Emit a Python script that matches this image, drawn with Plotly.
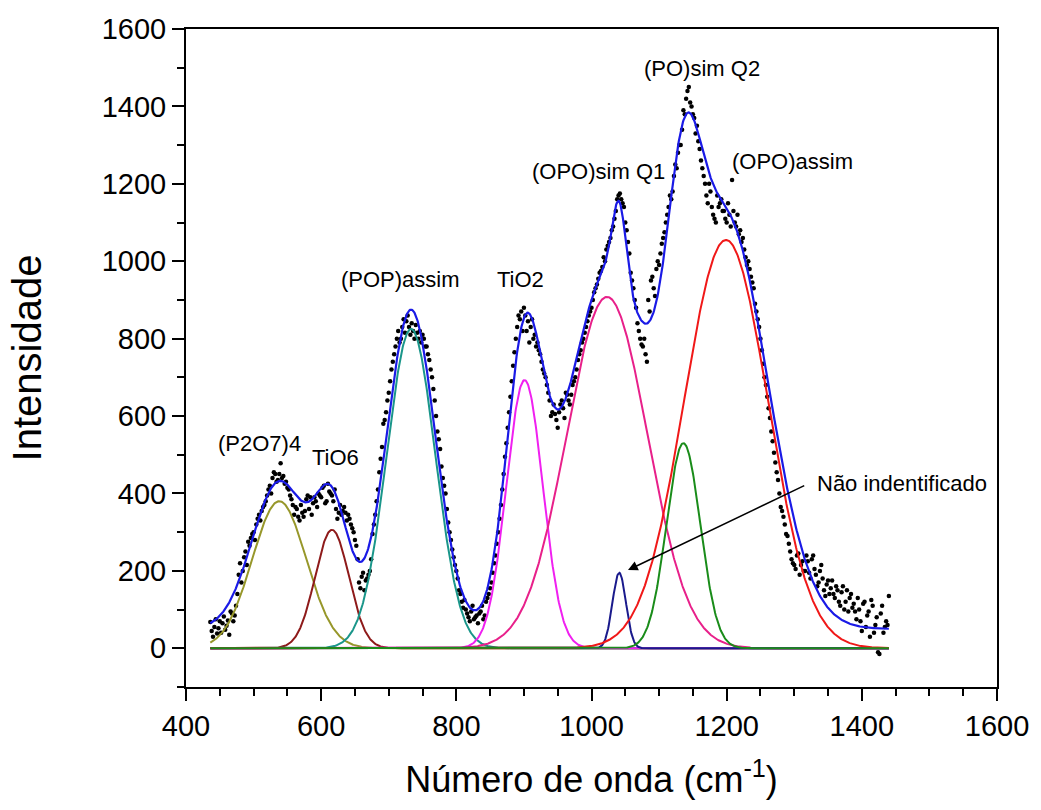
import numpy as np
import plotly.graph_objects as go

# ---------------- data ----------------
# measured points, scan A (x = 436, 440, ...) and scan B (x = 438, 442, ...)
intensity_a = [
    68, 30, 75, 52, 40, 82, 58, 35, 90, 85,
    140, 220, 200, 250, 275, 285, 300, 320, 345, 355,
    370, 395, 420, 440, 450, 435, 478, 445, 430, 410,
    385, 345, 360, 330, 350, 355, 395, 390, 375, 380,
    400, 390, 420, 380, 405, 395, 410, 335, 370, 355,
    350, 345, 320, 300, 265, 170, 185, 150, 180, 200,
    295, 345, 410, 490, 580, 610, 660, 720, 760, 800,
    790, 830, 815, 860, 810, 820, 835, 800, 790, 800,
    780, 745, 700, 640, 560, 515, 440, 400, 325, 280,
    235, 200, 150, 120, 125, 90, 70, 110, 80, 65,
    95, 75, 120, 140, 170, 220, 270, 335, 410, 495,
    570, 650, 730, 800, 860, 870, 880, 820, 790, 850,
    810, 790, 760, 720, 700, 660, 600, 630, 590, 610,
    640, 595, 655, 630, 680, 700, 745, 770, 800, 830,
    860, 880, 920, 940, 970, 985, 1000, 1040, 1060, 1090,
    1130, 1170, 1160, 1140, 1080, 1020, 950, 900, 840, 800,
    780, 760, 900, 950, 930, 980, 990, 1045, 1075, 1120,
    1170, 1180, 1250, 1280, 1300, 1390, 1420, 1450, 1400, 1370,
    1350, 1290, 1240, 1200, 1150, 1180, 1120, 1100, 1140, 1160,
    1130, 1100, 1120, 1210, 1100, 1120, 1080, 1060, 1010, 1000,
    960, 930, 870, 830, 770, 700, 650, 595, 535, 480,
    435, 365, 340, 295, 270, 230, 215, 240, 190, 225,
    200, 225, 180, 240, 190, 170, 215, 150, 165, 140,
    175, 130, 150, 110, 160, 120, 95, 140, 115, 75,
    100, 45, 120, 85, 30, 110, 60, -10, 90, 40,
    70, 135,
]
intensity_b = [
    45, 55, 38, 70, 65, 48, 72, 95, 70, 110,
    190, 170, 235, 215, 265, 295, 280, 335, 330, 365,
    380, 410, 400, 455, 430, 450, 440, 425, 415, 395,
    370, 365, 340, 370, 340, 385, 360, 345, 390, 365,
    395, 415, 375, 425, 400, 380, 360, 350, 345, 365,
    330, 335, 310, 280, 230, 155, 195, 175, 190, 230,
    320, 380, 455, 520, 590, 640, 690, 740, 780, 820,
    800, 850, 845, 830, 840, 800, 815, 820, 810, 780,
    760, 720, 670, 600, 540, 470, 420, 360, 300, 255,
    215, 180, 140, 105, 100, 80, 95, 75, 85, 90,
    110, 85, 130, 155, 195, 240, 300, 370, 450, 530,
    610, 690, 765, 830, 850, 820, 860, 845, 830, 800,
    780, 770, 740, 710, 680, 640, 610, 605, 570, 630,
    620, 660, 640, 655, 690, 720, 760, 790, 815, 845,
    870, 900, 930, 955, 975, 1010, 1030, 1050, 1080, 1110,
    1160, 1175, 1150, 1100, 1050, 970, 930, 880, 820, 785,
    800, 740, 870, 960, 910, 1000, 1020, 1060, 1100, 1140,
    1160, 1220, 1240, 1300, 1340, 1380, 1440, 1410, 1380, 1330,
    1310, 1260, 1220, 1170, 1200, 1140, 1110, 1170, 1150, 1130,
    1110, 1150, 1090, 1130, 1090, 1070, 1050, 1030, 990, 980,
    945, 890, 850, 800, 735, 680, 620, 560, 505, 455,
    400, 355, 320, 290, 250, 220, 205, 245, 215, 200,
    240, 195, 230, 205, 160, 200, 180, 135, 175, 155,
    140, 160, 120, 145, 100, 150, 130, 105, 95, 130,
    70, 115, 55, 95, 125, 40, 80, -15, 110, 55,
    60,
]
wavenumber_a = 436 + 4 * np.arange(len(intensity_a))
wavenumber_b = 438 + 4 * np.arange(len(intensity_b))

# fitted Gaussian components
peak_names = ["(P2O7)4", "TiO6", "(POP)assim", "TiO2", "(OPO)sim Q1",
              "Não indentificado", "(PO)sim Q2", "(OPO)assim"]
peak_centers = [538, 616, 733, 901, 1023, 1041, 1136, 1199]
peak_sigmas = [40, 25, 36, 27, 60, 10, 25, 62]
peak_heights = [380, 306, 825, 693, 908, 195, 530, 1055]
peak_colors = ["#97972a", "#8e1a1a", "#1a968a", "#f020f0", "#e8208a",
               "#1a1a8c", "#1a8c1a", "#f01818"]
fit_offset = 50

# label positions (data coordinates)
label_texts = ["(P2O7)4", "TiO6", "(POP)assim", "TiO2", "(OPO)sim Q1",
               "(PO)sim Q2", "(OPO)assim", "Não indentificado"]
label_x = [509, 621, 718, 895, 1011, 1164, 1298, 1459]
label_y = [530, 494, 954, 954, 1233, 1499, 1257, 425]
arrow_head = (1054, 202)
arrow_tail = (1317, 422)

# ---------------- figure ----------------
x_all = np.concatenate([wavenumber_a, wavenumber_b])
y_all = np.concatenate([intensity_a, intensity_b])
srt = np.argsort(x_all)
x_all, y_all = x_all[srt], y_all[srt]

xf = np.linspace(x_all[0], x_all[-1], 1200)
fig = go.Figure()

fig.add_trace(go.Scatter(x=x_all, y=y_all, mode="markers",
                         marker=dict(color="black", size=4.5),
                         showlegend=False, name="dados"))

total = np.full_like(xf, fit_offset, dtype=float)
order = [0, 1, 2, 3, 4, 5, 7, 6]
for i in order:
    g = peak_heights[i] * np.exp(-(xf - peak_centers[i]) ** 2 / (2 * peak_sigmas[i] ** 2))
    fig.add_trace(go.Scatter(x=xf, y=g, mode="lines",
                             line=dict(color=peak_colors[i], width=2),
                             showlegend=False, name=peak_names[i]))
for i in range(len(peak_centers)):
    total = total + peak_heights[i] * np.exp(-(xf - peak_centers[i]) ** 2 / (2 * peak_sigmas[i] ** 2))

fig.add_trace(go.Scatter(x=xf, y=total, mode="lines",
                         line=dict(color="#1a1ae6", width=2.2),
                         showlegend=False, name="ajuste"))

font_family = "Liberation Sans, Arial, sans-serif"
for t, lx, ly in zip(label_texts, label_x, label_y):
    fig.add_annotation(x=lx, y=ly, text=t, showarrow=False,
                       font=dict(family=font_family, size=22, color="black"))

fig.add_annotation(x=arrow_head[0], y=arrow_head[1], ax=arrow_tail[0], ay=arrow_tail[1],
                   xref="x", yref="y", axref="x", ayref="y", text="",
                   showarrow=True, arrowhead=2, arrowsize=1.3, arrowwidth=1.5,
                   arrowcolor="black")

axis_common = dict(showline=True, linecolor="black", linewidth=2, mirror=True,
                   ticks="outside", ticklen=12, tickwidth=1.5, tickcolor="black",
                   showgrid=False, zeroline=False,
                   tickfont=dict(family=font_family, size=29, color="black"))

fig.update_xaxes(range=[400, 1600], tick0=400, dtick=200,
                 minor=dict(ticks="outside", ticklen=7, tickwidth=1.5,
                            tickcolor="black", dtick=50, showgrid=False),
                 title=dict(text="Número de onda (cm<sup>-1</sup>)",
                            font=dict(family=font_family, size=36, color="black"),
                            standoff=26),
                 **axis_common)
fig.update_yaxes(range=[-100, 1600], tick0=0, dtick=200,
                 minor=dict(ticks="outside", ticklen=7, tickwidth=1.5,
                            tickcolor="black", dtick=100, showgrid=False),
                 title=dict(text="Intensidade",
                            font=dict(family=font_family, size=40, color="black"),
                            standoff=48),
                 **axis_common)

fig.update_layout(width=1041, height=810,
                  margin=dict(l=186, r=40, t=29, b=123),
                  plot_bgcolor="white", paper_bgcolor="white",
                  showlegend=False)

fig.write_html("out.html")
